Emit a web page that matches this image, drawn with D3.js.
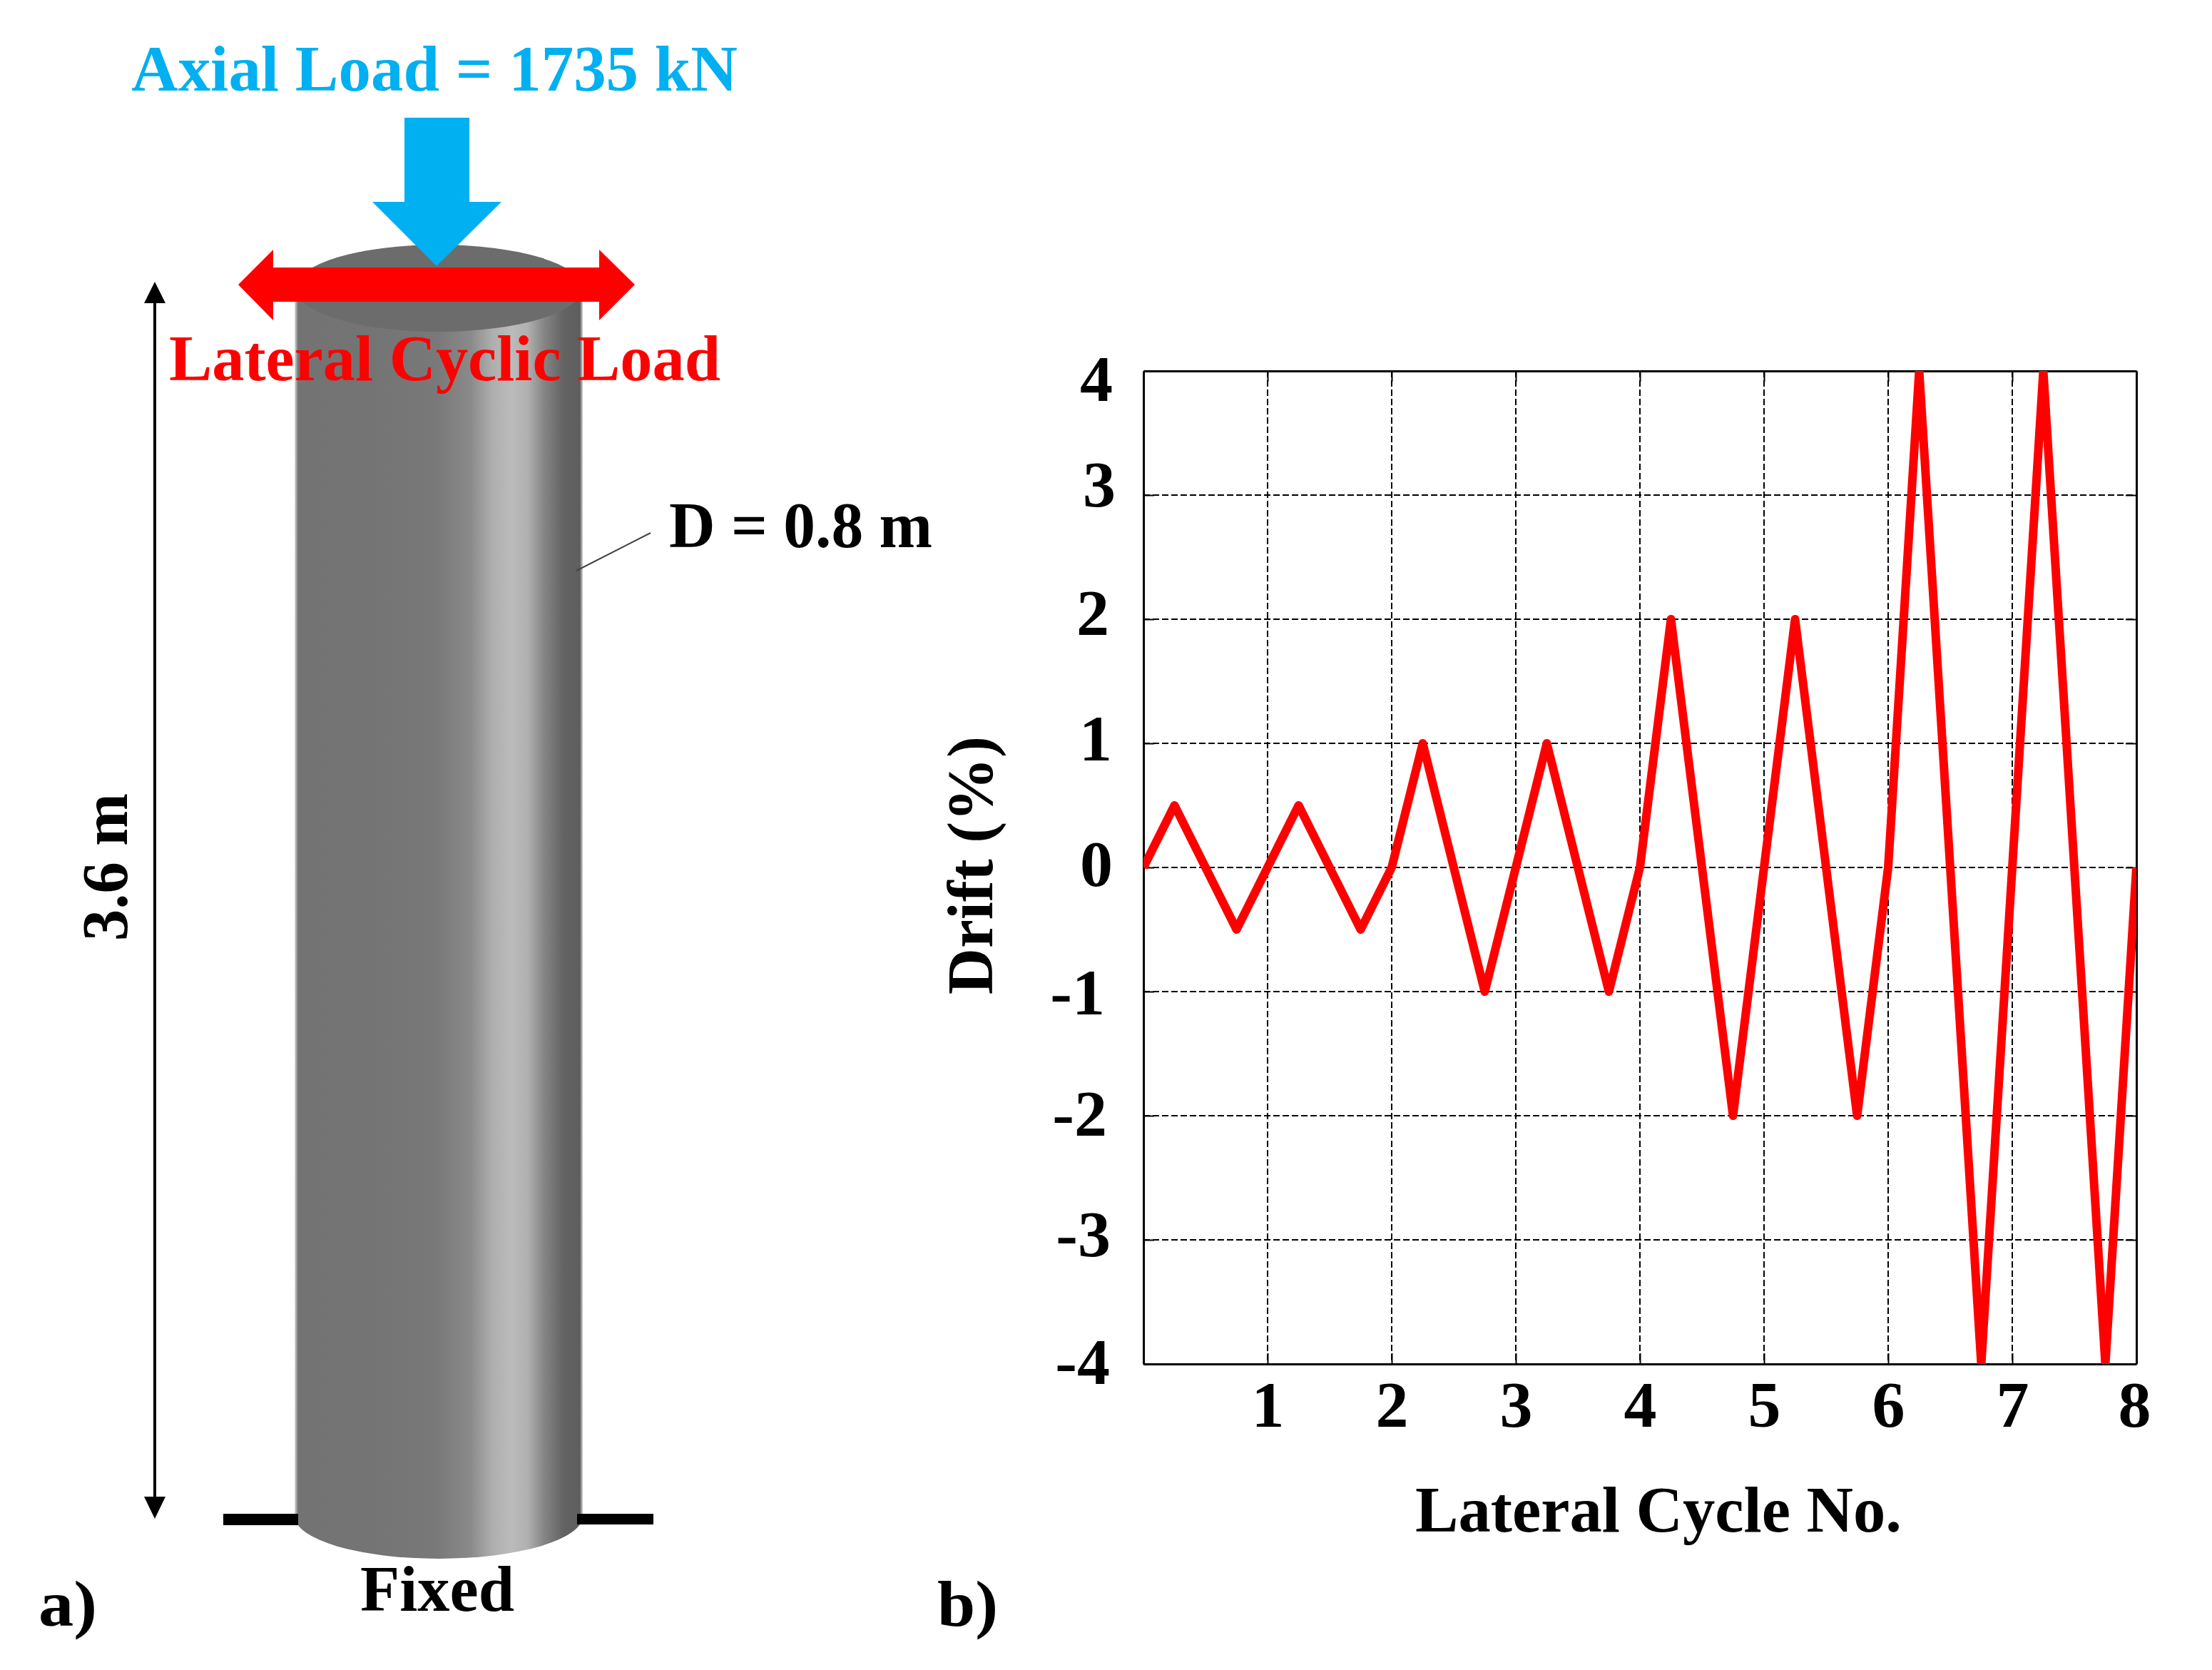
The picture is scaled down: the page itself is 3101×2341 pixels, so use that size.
<!DOCTYPE html>
<html>
<head>
<meta charset="utf-8">
<script src="https://cdn.jsdelivr.net/npm/d3@7"></script>
<style>
  body { margin: 0; background: #fff; }
  text { font-family: "Liberation Serif", serif; font-weight: bold; }
</style>
</head>
<body>
<script>
// drift history, one value for each corner of the loading protocol
const cycleNo = [0, 0.25, 0.75, 1, 1.25, 1.75, 2, 2.25, 2.75, 3, 3.25, 3.75, 4, 4.25, 4.75, 5, 5.25, 5.75, 6, 6.25, 6.75, 7, 7.25, 7.75, 8];
const drift = [0, 0.5, -0.5, 0, 0.5, -0.5, 0, 1, -1, 0, 1, -1, 0, 2, -2, 0, 2, -2, 0, 4, -4, 0, 4, -4, 0];
const xTicks = [1, 2, 3, 4, 5, 6, 7, 8];
const yTicks = [-4, -3, -2, -1, 0, 1, 2, 3, 4];

const width = 3101, height = 2341;
const plot = { left: 1603, right: 2995, top: 520, bottom: 1912 };
const fontSize = 92;

// the y labels were placed by hand in the original, so they sit a bit off their ticks
const yLabelNudge = new Map([
  [4, [2, 12]], [3, [6, -14]], [2, [-3, -8]], [1, [1, -6]], [0, [2, -4]],
  [-1, [-9, 2]], [-2, [-6, -2]], [-3, [-1, -7]], [-4, [-2, -2]]
]);

const svg = d3.select('body').append('svg')
  .attr('width', width)
  .attr('height', height)
  .style('display', 'block');

const defs = svg.append('defs');

const shade = defs.append('linearGradient').attr('id', 'columnShade');
[[0, '#e0e0e0'], [0.006, '#a8a8a8'], [0.012, '#737373'], [0.277, '#747474'], [0.495, '#797979'], [0.611, '#8a8a8a'], [0.686, '#aeaeae'],
 [0.752, '#bbb'], [0.809, '#b0b0b0'], [0.866, '#858585'], [0.933, '#636363'], [0.99, '#5e5e5e'], [1, '#d8d8d8']]
  .forEach(s => shade.append('stop').attr('offset', s[0]).attr('stop-color', s[1]));

defs.append('clipPath').attr('id', 'plotClip')
  .append('rect')
  .attr('x', plot.left)
  .attr('y', plot.top)
  .attr('width', plot.right - plot.left)
  .attr('height', plot.bottom - plot.top);

function label(txt, x, y, len, fill, rotate) {
  const t = svg.append('text')
    .attr('font-size', fontSize)
    .attr('fill', fill || '#000')
    .attr('textLength', len)
    .attr('lengthAdjust', 'spacingAndGlyphs')
    .text(txt);
  if (rotate) t.attr('transform', `translate(${x},${y}) rotate(${rotate})`);
  else t.attr('x', x).attr('y', y);
  return t;
}

// a) the column
const sketch = svg.append('g');

sketch.append('path')
  .attr('d', 'M413,404 L413,2125 A202,60 0 0 0 817,2125 L817,404 Z')
  .attr('fill', 'url(#columnShade)');
sketch.append('ellipse')
  .attr('cx', 615).attr('cy', 404).attr('rx', 201).attr('ry', 61)
  .attr('fill', '#6c6c6c');

sketch.append('rect').attr('x', 313).attr('y', 2122).attr('width', 105).attr('height', 16).attr('fill', '#000');
sketch.append('rect').attr('x', 809).attr('y', 2122).attr('width', 107).attr('height', 15).attr('fill', '#000');

// height dimension
sketch.append('line').attr('x1', 217).attr('x2', 217).attr('y1', 420).attr('y2', 2105).attr('stroke', '#000').attr('stroke-width', 4);
sketch.append('path').attr('d', 'M217,395 L232,425 L202,425 Z').attr('fill', '#000');
sketch.append('path').attr('d', 'M217,2129 L232,2098 L202,2098 Z').attr('fill', '#000');

// loads
sketch.append('path')
  .attr('d', 'M567,165 L658,165 L658,283 L703,283 L612,373 L522,283 L567,283 Z')
  .attr('fill', '#00b0f0');
sketch.append('path')
  .attr('d', 'M334,399 L383,350 L383,375 L840,375 L840,350 L890,399 L840,449 L840,423 L383,423 L383,449 Z')
  .attr('fill', '#ff0000');

sketch.append('line').attr('x1', 808).attr('y1', 800).attr('x2', 912).attr('y2', 747).attr('stroke', '#444').attr('stroke-width', 2);

label('Axial Load = 1735 kN', 184, 127, 850, '#00b0f0');
label('Lateral Cyclic Load', 237, 533, 773, '#ff0000');
label('D = 0.8 m', 938, 767, 369);
label('3.6 m', 178, 1319, 207, null, -90);
label('Fixed', 505, 2258, 216);
label('a)', 54, 2279, 82);
label('b)', 1314, 2279, 85);

// b) the drift history
const x = d3.scaleLinear().domain([0, 8]).range([plot.left, plot.right]);
const y = d3.scaleLinear().domain([-4, 4]).range([plot.bottom, plot.top]);

const chart = svg.append('g');

const grid = chart.append('g')
  .attr('stroke', '#000')
  .attr('stroke-width', 2)
  .attr('stroke-dasharray', '9 4');
grid.selectAll('line.v').data(xTicks.slice(0, -1)).enter().append('line')
  .attr('x1', d => x(d)).attr('x2', d => x(d))
  .attr('y1', plot.top).attr('y2', plot.bottom);
grid.selectAll('line.h').data(yTicks.slice(1, -1)).enter().append('line')
  .attr('y1', d => y(d)).attr('y2', d => y(d))
  .attr('x1', plot.left).attr('x2', plot.right);

function styleAxis(g) {
  g.select('.domain').attr('stroke', '#000').attr('stroke-width', 3);
  g.selectAll('.tick line').attr('stroke', '#000').attr('stroke-width', 2);
  g.selectAll('text').attr('font-size', fontSize).attr('fill', '#000').attr('font-family', null);
}

const xAxis = chart.append('g')
  .attr('transform', `translate(0,${plot.bottom})`)
  .call(d3.axisBottom(x).tickValues(xTicks).tickFormat(d3.format('d')).tickSizeInner(-15).tickSizeOuter(0).tickPadding(23));
xAxis.call(styleAxis);
xAxis.selectAll('text')
  .attr('dy', '0.71em')
  .attr('dx', d => d === 8 ? -3 : 0);

const yAxis = chart.append('g')
  .attr('transform', `translate(${plot.left},0)`)
  .call(d3.axisLeft(y).tickValues(yTicks).tickFormat(d => String(d)).tickSizeInner(-15).tickSizeOuter(0).tickPadding(45));
yAxis.call(styleAxis);
yAxis.selectAll('text')
  .attr('dx', d => yLabelNudge.get(d)[0])
  .attr('y', d => yLabelNudge.get(d)[1]);

chart.append('g').attr('transform', `translate(0,${plot.top})`)
  .call(d3.axisTop(x).tickValues(xTicks).tickFormat('').tickSizeInner(-15).tickSizeOuter(0))
  .call(styleAxis);
chart.append('g').attr('transform', `translate(${plot.right},0)`)
  .call(d3.axisRight(y).tickValues(yTicks).tickFormat('').tickSizeInner(-15).tickSizeOuter(0))
  .call(styleAxis);

const line = d3.line()
  .x((d, i) => x(cycleNo[i]))
  .y(d => y(d));

chart.append('path')
  .datum(drift)
  .attr('d', line)
  .attr('fill', 'none')
  .attr('stroke', '#ff0000')
  .attr('stroke-width', 12)
  .attr('stroke-linejoin', 'round')
  .attr('clip-path', 'url(#plotClip)');

label('Lateral Cycle No.', 1984, 2147, 682);
label('Drift (%)', 1391, 1394, 362, null, -90);
</script>
</body>
</html>
